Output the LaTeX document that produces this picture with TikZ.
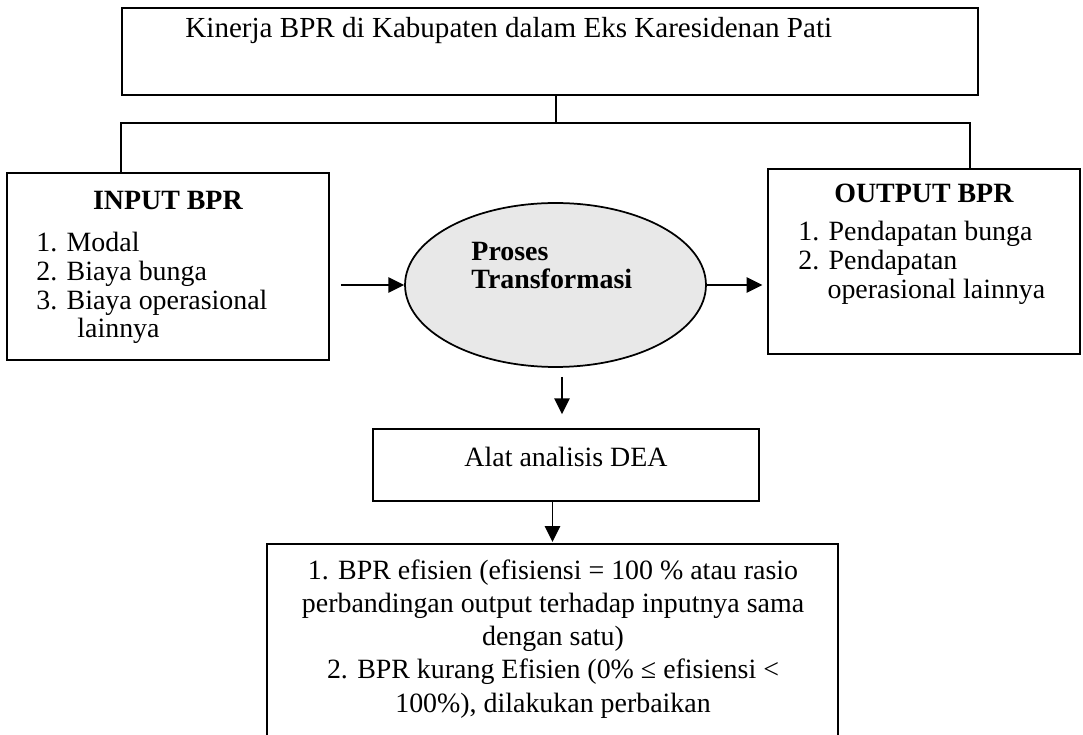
\documentclass[tikz,border=0pt]{standalone}
\usepackage{fontspec}
\setmainfont{Liberation Serif}
\usetikzlibrary{arrows.meta,shapes.geometric,fit}
\tikzset{
    box/.style = {draw, line width = 0.75pt, inner sep = 0pt},
    txt/.style = {inner sep = 0pt, font = \fontsize{12pt}{14pt}\selectfont},
    list/.style = {txt, align = left},
    link/.style = {line width = 0.75pt},
    arr/.style = {line width = 0.75pt, -{Triangle[length = 6.8pt, width = 6.6pt]}},
    proc/.style = {ellipse, draw, line width = 0.75pt, fill = black!9, inner sep = 0pt,
        minimum width = 129.4pt, minimum height = 70.5pt}
}
\begin{document}
\begin{tikzpicture}[x = 0.43pt, y = -0.43pt]
        \useasboundingbox (0,0) rectangle (1083,735);
        \clip (0,0) rectangle (1083,735);
        \node[box, fit = {(122,8) (978,95)}] (perf) {};
        \node[txt, anchor = base west, font = \fontsize{12.5pt}{14pt}\selectfont] (perflbl) at (185,38)
            {Kinerja BPR di Kabupaten dalam Eks Karesidenan Pati};
        \node[box, fit = {(7,173) (329,360)}] (inbox) {};
        \node[txt, anchor = base] (intitle) at (168,210) {\textbf{INPUT BPR}};
        \node[list, anchor = north west, font = \fontsize{12pt}{12.3pt}\selectfont] (initems) at (36,232)
            {1. Modal\\2. Biaya bunga\\3. Biaya operasional\\\hspace*{17.6pt}lainnya};
        \node[proc] (proc) at (555.5,285) {};
        \node[list, anchor = north west, font = \fontsize{12pt}{12pt}\bfseries\selectfont] (proclbl) at (471,242)
            {Proses\\Transformasi};
        \node[box, fit = {(768,169) (1080,354)}] (outbox) {};
        \node[txt, anchor = base] (outtitle) at (924,203) {\textbf{OUTPUT BPR}};
        \node[list, anchor = north west, font = \fontsize{12pt}{12.3pt}\selectfont] (outitems) at (798,221)
            {1. Pendapatan bunga\\2. Pendapatan\\\hspace*{12.5pt}operasional lainnya};
        \node[box, fit = {(373,429) (759,501)}] (dea) {};
        \node[txt, anchor = base] (dealbl) at (566,467) {Alat analisis DEA};
        \node[box, fit = {(267,544) (838,760)}] (res) {};
        \node[list, align = center, anchor = north, font = \fontsize{12pt}{14.3pt}\selectfont] (reslbl) at (553,559)
            {1. BPR efisien (efisiensi = 100 \% atau rasio\\perbandingan output terhadap inputnya sama\\dengan satu)\\2. BPR kurang Efisien (0\% ≤ efisiensi <\\100\%), dilakukan perbaikan};
        \coordinate (busL) at (121,123);
        \coordinate (busM) at (556,123);
        \coordinate (busR) at (970,123);
        \draw[link] (busM |- perf.south) -- (busM);
        \draw[link] (busL |- inbox.north) -- (busL) -- (busR) -- (busR |- outbox.north);
        \draw[arr, shorten <= 4.7pt] (inbox.east |- proc.west) -- (proc.west);
        \draw[arr, shorten >= 2pt] (proc.east) -- (proc.east -| outbox.west);
        \draw[arr] ([shift = {(6.5,9)}]proc.south) -- ([shift = {(-4,-14)}]dea.north);
        \draw[arr, shorten >= 0.5pt] (res.north |- dea.south) -- (res.north);
    \end{tikzpicture}
\end{document}
